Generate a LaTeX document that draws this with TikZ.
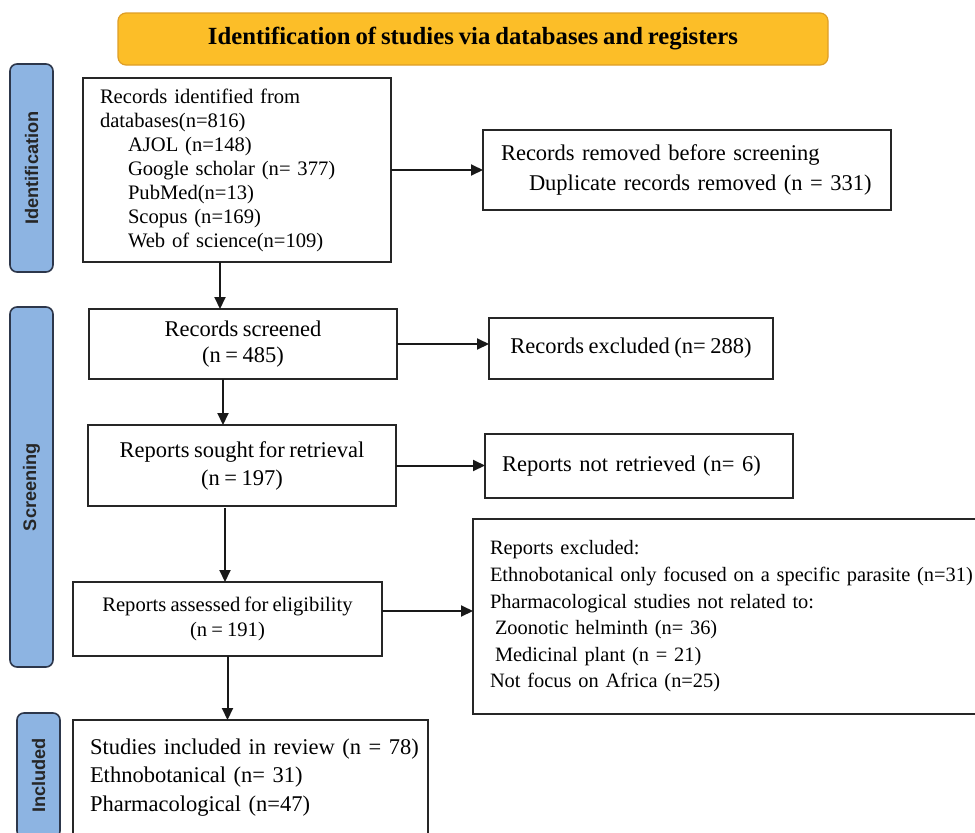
\documentclass[tikz,border=0pt]{standalone}
\usepackage{fontspec}
\setmainfont{Liberation Serif}[WordSpace=0.8]
\newfontfamily\sidefont{Liberation Sans}
\usepackage{tikz}
\usetikzlibrary{positioning, arrows.meta}

\definecolor{headfill}{RGB}{252,190,40}
\definecolor{headline}{RGB}{222,158,38}
\definecolor{phasefill}{RGB}{141,180,226}
\definecolor{phaseline}{RGB}{45,55,75}

\newcommand{\bigtxt}{\fontsize{22.5}{28}\selectfont}
\newcommand{\smalltxt}{\fontsize{20.6}{24}\selectfont}

\begin{document}
\begin{tikzpicture}[x=1pt, y=-1pt,
    box/.style={draw=black!85, line width=2pt, rectangle, inner ysep=0pt, outer sep=0pt},
    leftbox/.style={box, align=left, inner xsep=17pt},
    midbox/.style={box, align=center, inner xsep=0pt},
    phase/.style={draw=phaseline, fill=phasefill, line width=1.6pt, rounded corners=7pt,
        rotate=90, inner sep=0pt, outer sep=0pt, minimum height=43pt, text=black!85,
        font=\sidefont\bfseries\fontsize{18.2}{20}\selectfont},
    arr/.style={-{Triangle[length=12pt,width=11pt]}, line width=2pt, draw=black!90}]

    \useasboundingbox (0,0) rectangle (975,833);
    \clip (0,0) rectangle (975,833);

    % header and phase labels
    \node[draw=headline, fill=headfill, line width=1.2pt, rounded corners=8pt,
          minimum width=710pt, minimum height=52pt, inner sep=0pt,
          font=\bfseries\fontsize{24.7}{28}\selectfont] (head) at (473,39)
          {Identification of studies via databases and registers};
    \node[phase, minimum width=208pt] (identification) at (31.5,168) {Identification};
    \node[phase, minimum width=360pt] (screening) at (31.5,487) {Screening};
    \node[phase, minimum width=125pt] (includedlbl) at (38.5,775.5) {Included};

    % main column
    \node[leftbox, text width=274pt, minimum height=184pt, font=\smalltxt] (records) at (237,170)
        {Records identified from\\
         databases(n=816)\\
         \hspace*{28pt}AJOL (n=148)\\
         \hspace*{28pt}Google scholar (n= 377)\\
         \hspace*{28pt}PubMed(n=13)\\
         \hspace*{28pt}Scopus (n=169)\\
         \hspace*{28pt}Web of science(n=109)};
    \node[midbox, minimum width=308pt, minimum height=70pt, font=\fontsize{22.5}{26}\selectfont] (screened) at (243,344)
        {Records screened\\(n = 485)};
    \node[midbox, minimum width=308pt, minimum height=81pt, font=\bigtxt] (sought) at (242,465.5)
        {Reports sought for retrieval\\(n = 197)};
    \node[midbox, minimum width=309pt, minimum height=74pt, font=\fontsize{20.6}{25}\selectfont] (assessed) at (227.5,619)
        {Reports assessed for eligibility\\(n = 191)};
    \node[leftbox, text width=321pt, minimum height=115pt, font=\fontsize{22.5}{28.5}\selectfont] (included) at (250.5,777.5)
        {\mbox{Studies included in review (n = 78)}\\
         Ethnobotanical (n= 31)\\
         Pharmacological (n=47)};

    % side column
    \node[leftbox, inner xsep=18pt, text width=372pt, minimum height=80pt, font=\fontsize{22.5}{30}\selectfont] (removed) at (687,170)
        {Records removed before screening\\
         \hspace*{28pt}\mbox{Duplicate records removed (n = 331)}};
    \node[midbox, minimum width=284pt, minimum height=61pt, font=\bigtxt] (excluded) at (631,348.5)
        {Records excluded (n= 288)};
    \node[leftbox, text width=274pt, minimum height=64pt, font=\bigtxt] (notretrieved) at (639,466)
        {Reports not retrieved (n= 6)};
    \node[leftbox, text width=483pt, minimum height=195pt, font=\fontsize{20.4}{26.6}\selectfont] (excluded2) at (731.5,616.5)
        {Reports excluded:\\
         \mbox{Ethnobotanical only focused on a specific parasite (n=31)}\\
         Pharmacological studies not related to:\\
         \hspace*{5pt}Zoonotic helminth (n= 36)\\
         \hspace*{5pt}Medicinal plant (n = 21)\\
         Not focus on Africa (n=25)};

    % connectors
    \draw[arr] (records.east) -- (removed.west);
    \draw[arr] ([xshift=-17pt]records.south) -- ([xshift=-17pt]records.south |- screened.north);
    \draw[arr] (screened.east) -- (screened.east -| excluded.west);
    \draw[arr] ([xshift=-20pt]screened.south) -- ([xshift=-20pt]screened.south |- sought.north);
    \draw[arr] (sought.east) -- (sought.east -| notretrieved.west);
    \draw[arr] ([xshift=-17pt,yshift=-2pt]sought.south) -- ([xshift=-17pt]sought.south |- assessed.north);
    \draw[arr] ([yshift=8pt]assessed.east) -- ([yshift=8pt]assessed.east -| excluded2.west);
    \draw[arr] (assessed.south) -- (assessed.south |- included.north);
\end{tikzpicture}
\end{document}
